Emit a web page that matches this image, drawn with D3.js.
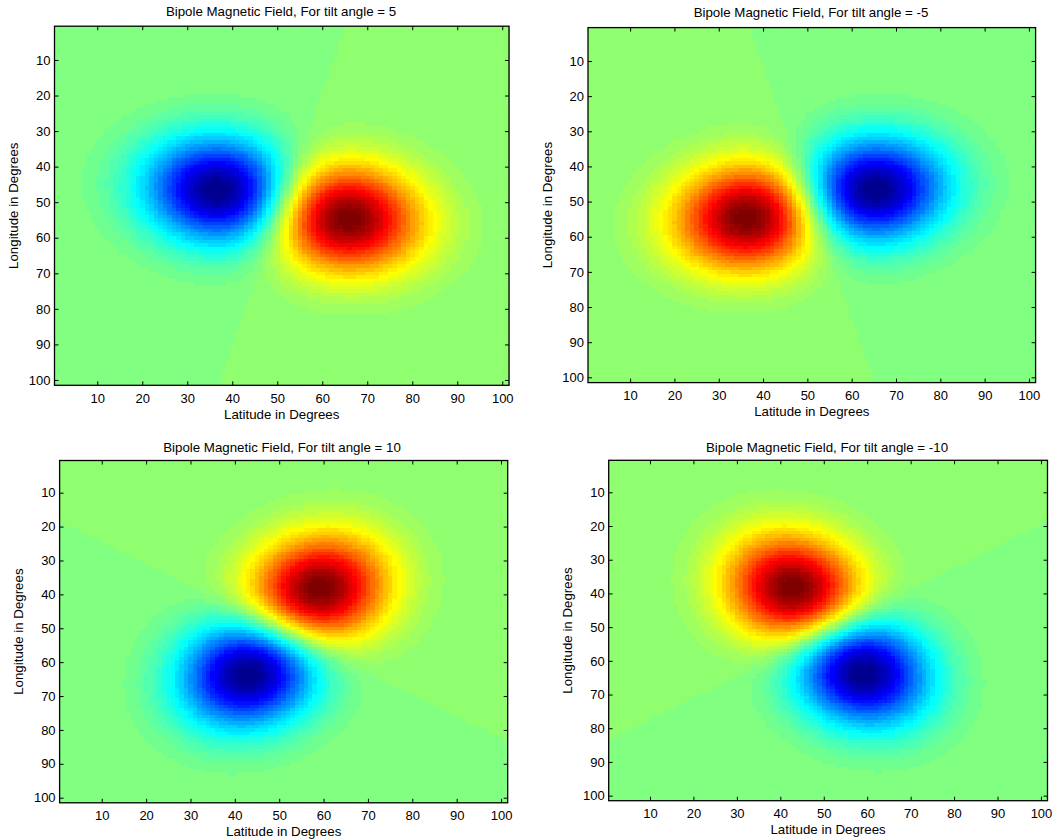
<!DOCTYPE html>
<html>
<head>
<meta charset="utf-8">
<script src="https://cdn.jsdelivr.net/npm/d3@7/dist/d3.min.js"></script>
<style>
  html, body { margin: 0; padding: 0; background: #ffffff; }
  svg { display: block; }
  text { font-family: "Liberation Sans", Arial, sans-serif; fill: #000; }
</style>
</head>
<body>
<svg id="chart" width="1058" height="840"></svg>
<script>
// ---- data ----
const tiltAngles = [5, -5, 10, -10];
// pole centres, in grid units (latitude index, longitude index)
const posLat = [64.05, 37.95, 58.3, 43.7];
const posLon = [54.2, 54.2, 39.65, 39.65];
const negLat = [38.25, 63.75, 43.7, 58.3];
const negLon = [47.0, 47.0, 62.35, 62.35];
// spot widths along / across the bipole axis (grid units)
const widthAlong = [17, 17, 17, 17];
const widthAcross = [14.5, 14.5, 14.5, 14.5];
const gridSize = 101;
const tickValues = [10, 20, 30, 40, 50, 60, 70, 80, 90, 100];
const titles = tiltAngles.map(t => "Bipole Magnetic Field, For tilt angle = " + t);
const xLabel = "Latitude in Degrees";
const yLabel = "Longitude in Degrees";

// ---- layout ----
const panels = [
  { left: 54.5, right: 509,   top: 26.2,  bottom: 385.3, titleX: 281, titleY: 16 },
  { left: 588,  right: 1035.6, top: 27.6, bottom: 382.6, titleX: 811, titleY: 16.5 },
  { left: 59.6, right: 507.7, top: 460.5, bottom: 802.8, titleX: 282, titleY: 451.5 },
  { left: 608.7, right: 1047.5, top: 460.3, bottom: 800.7, titleX: 827, titleY: 451.5 }
];
const labelFont = 13.3, tickFont = 13;

// MATLAB jet(m) colormap
function jet(m) {
  const n = Math.ceil(m / 4);
  const u = [];
  for (let i = 1; i <= n; i++) u.push(i / n);
  for (let i = 0; i < n - 1; i++) u.push(1);
  for (let i = n; i >= 1; i--) u.push(i / n);
  const g0 = Math.ceil(n / 2) - (m % 4 === 1 ? 1 : 0);
  const J = Array.from({ length: m }, () => [0, 0, 0]);
  for (let k = 0; k < u.length; k++) {
    const g = g0 + k + 1, r = g + n, b = g - n;
    if (r >= 1 && r <= m) J[r - 1][0] = u[k];
    if (g >= 1 && g <= m) J[g - 1][1] = u[k];
    if (b >= 1 && b <= m) J[b - 1][2] = u[k];
  }
  return J.map(c => d3.rgb(c[0] * 255, c[1] * 255, c[2] * 255).formatHex());
}
const cmap = jet(64);

const svg = d3.select("#chart");

panels.forEach((p, k) => {
  const x = d3.scaleLinear().domain([0.5, gridSize + 0.5]).range([p.left, p.right]);
  const y = d3.scaleLinear().domain([0.5, gridSize + 0.5]).range([p.top, p.bottom]);

  // bipole axis unit vector
  const ax0 = posLat[k] - negLat[k], ay0 = posLon[k] - negLon[k];
  const len = Math.hypot(ax0, ay0);
  const ux = ax0 / len, uy = ay0 / len;
  const A2 = widthAlong[k] ** 2, P2 = widthAcross[k] ** 2;
  const spot = (dx, dy) => {
    const s = dx * ux + dy * uy, t = -dx * uy + dy * ux;
    return Math.exp(-(s * s) / A2 - (t * t) / P2);
  };

  // field values
  const vals = [];
  let vmax = 0;
  for (let j = 1; j <= gridSize; j++) {
    const row = [];
    for (let i = 1; i <= gridSize; i++) {
      const v = spot(i - posLat[k], j - posLon[k]) - spot(i - negLat[k], j - negLon[k]);
      row.push(v);
      if (Math.abs(v) > vmax) vmax = Math.abs(v);
    }
    vals.push(row);
  }
  const vmin = -vmax;
  const idx = v => Math.min(63, Math.max(0, Math.floor((v - vmin) / (vmax - vmin) * 64)));

  // run-length cells per row
  const cells = [];
  for (let j = 1; j <= gridSize; j++) {
    let start = 1, cur = idx(vals[j - 1][0]);
    for (let i = 2; i <= gridSize + 1; i++) {
      const c = i <= gridSize ? idx(vals[j - 1][i - 1]) : -1;
      if (c !== cur) {
        cells.push({ j, i0: start, i1: i - 1, c: cur });
        start = i; cur = c;
      }
    }
  }

  const g = svg.append("g");
  g.append("g").attr("shape-rendering", "crispEdges")
    .selectAll("rect").data(cells).join("rect")
    .attr("x", d => x(d.i0 - 0.5))
    .attr("y", d => y(d.j - 0.5))
    .attr("width", d => x(d.i1 + 0.5) - x(d.i0 - 0.5) + 0.5)
    .attr("height", d => y(d.j + 0.5) - y(d.j - 0.5) + 0.5)
    .attr("fill", d => cmap[d.c]);

  const tl = 4;
  // axes
  const ax = g.append("g").attr("transform", `translate(0,${p.bottom})`)
    .call(d3.axisBottom(x).tickValues(tickValues).tickSize(-tl).tickPadding(8));
  const axT = g.append("g").attr("transform", `translate(0,${p.top})`)
    .call(d3.axisTop(x).tickValues(tickValues).tickSize(-tl).tickFormat(""));
  const ay = g.append("g").attr("transform", `translate(${p.left},0)`)
    .call(d3.axisLeft(y).tickValues(tickValues).tickSize(-tl).tickPadding(4));
  const ayR = g.append("g").attr("transform", `translate(${p.right},0)`)
    .call(d3.axisRight(y).tickValues(tickValues).tickSize(-tl).tickFormat(""));
  [ax, axT, ay, ayR].forEach(s => {
    s.select(".domain").remove();
    s.selectAll("line").attr("stroke", "#000").attr("stroke-width", 1);
    s.selectAll("text").attr("font-size", tickFont).attr("fill", "#000")
      .style("font-family", '"Liberation Sans", Arial, sans-serif');
  });
  g.append("rect")
    .attr("x", p.left).attr("y", p.top)
    .attr("width", p.right - p.left).attr("height", p.bottom - p.top)
    .attr("fill", "none").attr("stroke", "#000").attr("stroke-width", 1.3);

  g.append("text").attr("x", p.titleX).attr("y", p.titleY)
    .attr("text-anchor", "middle").attr("font-size", labelFont).text(titles[k]);
  g.append("text").attr("x", (p.left + p.right) / 2).attr("y", p.bottom + 33.5)
    .attr("text-anchor", "middle").attr("font-size", labelFont).text(xLabel);
  g.append("text")
    .attr("transform", `translate(${p.left - 36.5},${(p.top + p.bottom) / 2}) rotate(-90)`)
    .attr("text-anchor", "middle").attr("font-size", labelFont).text(yLabel);
});
</script>
</body>
</html>
